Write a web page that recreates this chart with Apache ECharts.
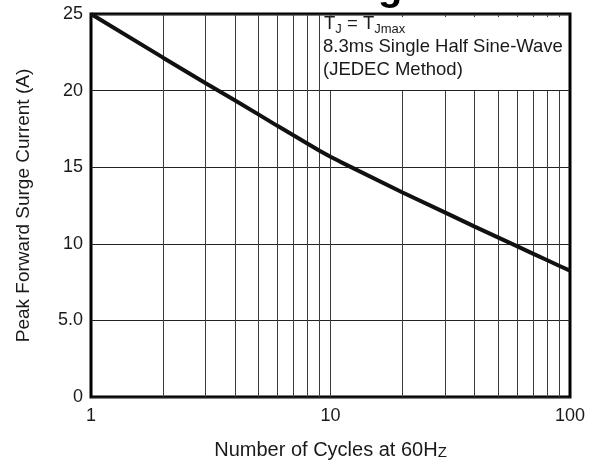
<!DOCTYPE html>
<html>
<head>
<meta charset="utf-8">
<script src="https://cdn.jsdelivr.net/npm/echarts@6/dist/echarts.min.js"></script>
<style>
html,body{margin:0;padding:0;background:#fff;}
#chart{width:590px;height:466px;}
</style>
</head>
<body>
<div id="chart"></div>
<script>
// ---- data ----
const cycles = [1, 2, 3, 4, 5, 6, 7, 8, 9, 10, 11, 20, 30, 40, 50, 60, 70, 80, 90, 100];
const surge  = [25, 22.15, 20.5, 19.35, 18.45, 17.7, 17.08, 16.55, 16.08, 15.68, 15.35, 13.35, 12.05, 11.12, 10.42, 9.85, 9.36, 8.94, 8.57, 8.25];
const fullGridX = [2, 3, 4, 5, 6, 7, 8, 9];                 // full-height vertical grid lines
const partGridX = [10, 20, 30, 40, 50, 60, 70, 80, 90];     // grid lines stopped under the note box
const yTicks = [0, 5, 10, 15, 20, 25];
const yTickLabels = ['0', '5.0', '10', '15', '20', '25'];
const xTickLabels = {1: '1', 10: '10', 100: '100'};
const boxBottom = 20, yMax = 25, yMin = 0, topTick = 24.8;
const titleText = 'Peak Forward Surge Current';
const xName = 'Number of Cycles at 60H{z|Z}';
const yName = 'Peak Forward Surge Current (A)';
const noteLines = ['{n|T}{s|J}{n| = T}{s|Jmax}', '8.3ms Single Half Sine-Wave', '(JEDEC Method)'];

const FONT = "'Liberation Sans', Arial, sans-serif";
const TXT = '#1a1a1a';
const GRID = '#3a3a3a';

const lineData = [];
fullGridX.forEach(v => lineData.push([{coord: [v, yMin]}, {coord: [v, yMax]}]));
partGridX.forEach(v => {
  lineData.push([{coord: [v, yMin]}, {coord: [v, boxBottom]}]);
  lineData.push([{coord: [v, yMax]}, {coord: [v, topTick]}]);
});

const chart = echarts.init(document.getElementById('chart'), null, {renderer: 'canvas'});
chart.setOption({
  animation: false,
  backgroundColor: '#fff',
  textStyle: {fontFamily: FONT},
  grid: {left: 91, right: 20, top: 14, bottom: 69, show: true, borderColor: '#000', borderWidth: 3, backgroundColor: 'transparent'},
  xAxis: {
    type: 'log', logBase: 10, min: 1, max: 100,
    name: xName, nameLocation: 'middle', nameGap: 43,
    nameTextStyle: {fontSize: 20, color: TXT, fontFamily: FONT,
      rich: {z: {fontSize: 15, color: TXT, fontFamily: FONT, verticalAlign: 'bottom', lineHeight: 14}}},
    axisLine: {show: false}, axisTick: {show: false},
    splitLine: {show: false},
    axisLabel: {fontSize: 18, color: TXT, margin: 10, fontFamily: FONT,
      formatter: v => xTickLabels[Math.round(v)] || ''}
  },
  yAxis: {
    type: 'value', min: yMin, max: yMax, interval: 5,
    name: yName, nameLocation: 'middle', nameGap: 58,
    nameTextStyle: {fontSize: 19, color: TXT, fontFamily: FONT},
    axisLine: {show: false}, axisTick: {show: false},
    splitLine: {show: true, lineStyle: {color: '#222', width: 1}},
    axisLabel: {fontSize: 18, color: TXT, margin: 8, fontFamily: FONT,
      formatter: v => yTickLabels[yTicks.indexOf(v)]}
  },
  series: [{
    type: 'line',
    data: cycles.map((c, i) => [c, surge[i]]),
    symbol: 'none',
    lineStyle: {color: '#111', width: 4},
    z: 5,
    markLine: {
      silent: true, symbol: ['none', 'none'],
      label: {show: false},
      lineStyle: {color: GRID, width: 1, type: 'solid'},
      data: lineData,
      z: 1
    }
  }],
  graphic: [
    {type: 'text', left: 324, top: 14,
      style: {text: noteLines[0], fill: TXT, font: '18.5px ' + FONT,
        rich: {n: {fontSize: 18.5, fontFamily: FONT, fill: TXT, lineHeight: 22, verticalAlign: 'top'},
               s: {fontSize: 13, fontFamily: FONT, fill: TXT, lineHeight: 13, verticalAlign: 'bottom'}}}},
    {type: 'text', left: 323, top: 37, style: {text: noteLines[1], fill: TXT, font: '18.5px ' + FONT}},
    {type: 'text', left: 323, top: 60, style: {text: noteLines[2], fill: TXT, font: '18.5px ' + FONT}},
    {type: 'text', x: 38, y: -11,
      style: {text: titleText, fill: '#000', font: 'bold 40px ' + FONT, verticalAlign: 'middle', align: 'left'}}
  ]
});
</script>
</body>
</html>
